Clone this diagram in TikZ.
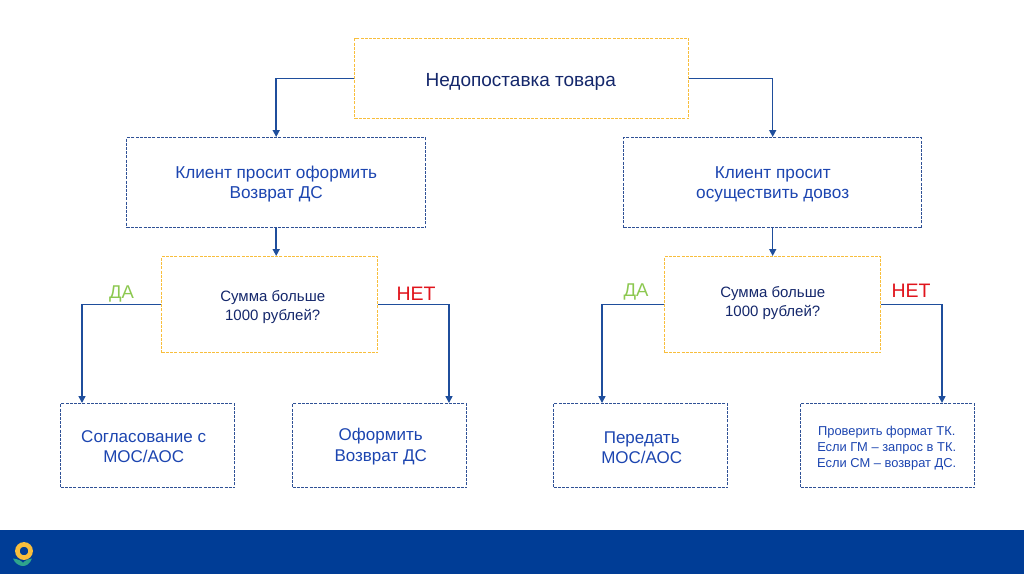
\documentclass[tikz,border=0pt]{standalone}
\usepackage{fontspec}
\setmainfont{Liberation Sans}
\usetikzlibrary{arrows.meta}
\definecolor{navy}{HTML}{14276B}
\definecolor{linkblue}{HTML}{1F4E9C}
\definecolor{bar}{HTML}{003D96}
\definecolor{gold}{HTML}{F8BE3C}
\definecolor{frameblue}{HTML}{2F5196}
\definecolor{textblue}{HTML}{1C45B0}
\definecolor{yes}{HTML}{8CC850}
\definecolor{no}{HTML}{E0141C}
\definecolor{leaf}{HTML}{2FA58C}
\tikzset{
 x=1pt,y=-1pt,
 boxbase/.style={anchor=north west,inner sep=0pt,line width=1.4pt,dash pattern=on 3pt off 1.2pt},
 goldbox/.style={boxbase,draw=gold},
 bluebox/.style={boxbase,draw=frameblue},
 link/.style={draw=linkblue,line width=1.5pt,-{Triangle[length=7pt,width=7pt]}},
 yeslabel/.style={text=yes,font=\fontsize{18.5}{22}\selectfont},
 nolabel/.style={text=no,font=\fontsize{19.5}{22}\selectfont},
 txtshift/.style={},
}
% style, name, corner, width, height, text, colour, size, leading
\newcommand{\boxat}[9]{\node[#1,minimum width=#4pt,minimum height=#5pt,
  label={[align=center,inner sep=0pt,text=#7,font=\fontsize{#8}{#9}\selectfont,txtshift]center:{#6}}] (#2) at #3 {};}
\newcommand{\setshift}[2]{\tikzset{txtshift/.style={xshift=#1pt,yshift=#2pt}}}
\begin{document}
\begin{tikzpicture}
\useasboundingbox (0,0) rectangle (1024,574);
\fill[bar] (0,530) rectangle (1024,574);
% logo
\fill[leaf] (13,558.5) .. controls (18,559) and (22,561) .. (23,563) .. controls (24,561) and (28,559) .. (32,558.5) .. controls (30,564) and (26,566) .. (23,566) .. controls (20,566) and (15,564) .. (13,558.5) -- cycle;
\draw[gold,line width=4.6pt] (24,551) circle (6.6pt);

\setshift{-1}{-3}
\boxat{goldbox}{top}{(354,38)}{334}{80}{Недопоставка товара}{navy}{19}{23}
\setshift{0}{-1.5}
\boxat{bluebox}{cl}{(126,137)}{299}{90}{Клиент просит оформить\\Возврат ДС}{textblue}{17.2}{20.5}
\boxat{bluebox}{cr}{(623,137)}{298}{90}{Клиент просит\\осуществить довоз}{textblue}{17.2}{20.5}
\setshift{3}{-2.5}
\boxat{goldbox}{dl}{(161,256)}{216}{96}{Сумма больше\\1000 рублей?}{navy}{15}{18.5}
\setshift{0}{1.5}
\boxat{goldbox}{dr}{(664,256)}{216}{96}{Сумма больше\\1000 рублей?}{navy}{15}{18.5}
\setshift{-4}{-1}
\boxat{bluebox}{a}{(60,403)}{174}{84}{Согласование с\\МОС/АОС}{textblue}{17}{20.5}
\setshift{1}{-1}
\boxat{bluebox}{b}{(292,403)}{174}{84}{Оформить\\Возврат ДС}{textblue}{17}{20.5}
\setshift{1}{-2}
\boxat{bluebox}{c}{(553,403)}{174}{84}{Передать\\МОС/АОС}{textblue}{17}{20.5}
\setshift{-1}{-2.5}
\boxat{bluebox}{d}{(800,403)}{174}{84}{Проверить формат ТК.\\Если ГМ – запрос в ТК.\\Если СМ – возврат ДС.}{textblue}{12.9}{16}

\coordinate (ae) at (82,403);
\coordinate (be) at (449,403);
\coordinate (ce) at (602,403);
\coordinate (de) at (942,403);
\draw[link] (top.west) -| (cl.north);
\draw[link] (top.east) -| (cr.north);
\draw[link] (cl.south) -- (cl.south |- dl.north);
\draw[link] (cr.south) -- (cr.south |- dr.north);
\draw[link] (dl.west) -| (ae);
\draw[link] (dl.east) -| (be);
\draw[link] (dr.west) -| (ce);
\draw[link] (dr.east) -| (de);
\node[yeslabel] (y1) at (121.5,294) {ДА};
\node[nolabel] (n1) at (416,294) {НЕТ};
\node[yeslabel] (y2) at (636,292) {ДА};
\node[nolabel] (n2) at (911,291) {НЕТ};
\end{tikzpicture}
\end{document}
